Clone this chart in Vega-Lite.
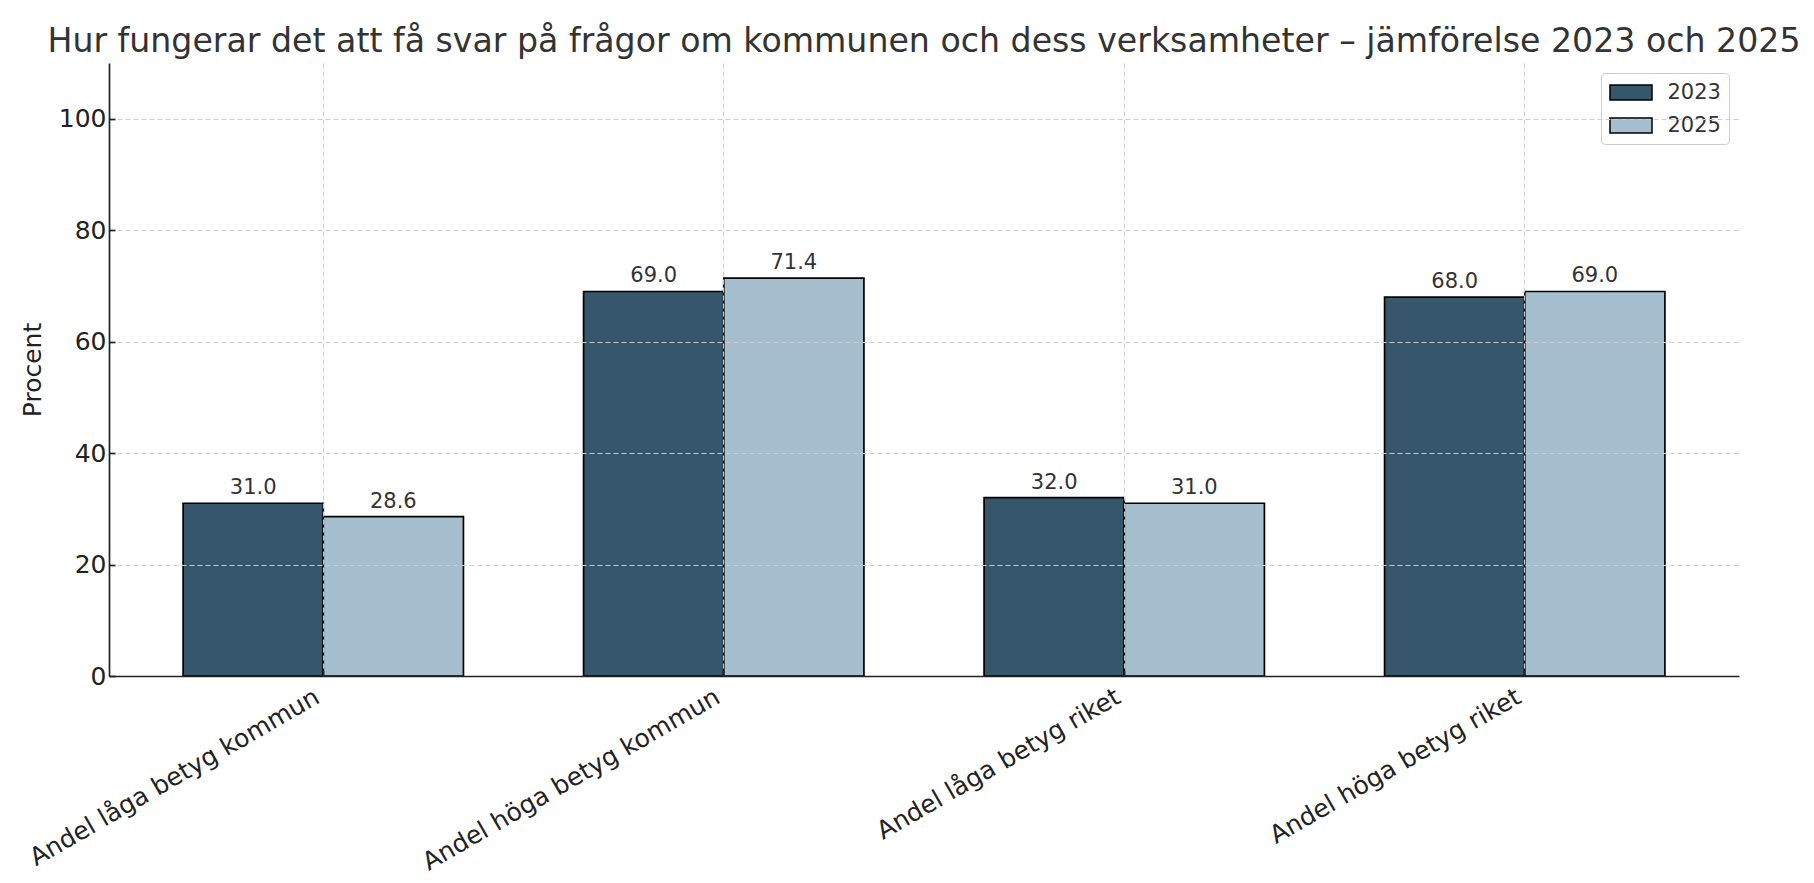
{
  "$schema": "https://vega.github.io/schema/vega-lite/v6.json",
  "width": 1630,
  "height": 613,
  "autosize": {"type": "none"},
  "padding": {"left": 109, "top": 63, "right": 75, "bottom": 207},
  "background": "white",
  "title": {
    "text": "Hur fungerar det att få svar på frågor om kommunen och dess verksamheter – jämförelse 2023 och 2025",
    "fontSize": 33.2,
    "font": "DejaVu Sans",
    "fontWeight": "normal",
    "color": "#333333",
    "anchor": "middle",
    "frame": "group",
    "offset": 4
  },
  "data": {
    "values": [
      {"kategori": "Andel låga betyg kommun", "year": "2023", "value": 31.0},
      {"kategori": "Andel låga betyg kommun", "year": "2025", "value": 28.6},
      {"kategori": "Andel höga betyg kommun", "year": "2023", "value": 69.0},
      {"kategori": "Andel höga betyg kommun", "year": "2025", "value": 71.4},
      {"kategori": "Andel låga betyg riket", "year": "2023", "value": 32.0},
      {"kategori": "Andel låga betyg riket", "year": "2025", "value": 31.0},
      {"kategori": "Andel höga betyg riket", "year": "2023", "value": 68.0},
      {"kategori": "Andel höga betyg riket", "year": "2025", "value": 69.0}
    ]
  },
  "encoding": {
    "x": {
      "field": "kategori",
      "type": "nominal",
      "sort": null,
      "scale": {"paddingInner": 0.3, "paddingOuter": 0.185},
      "axis": {
        "title": null,
        "bandPosition": 0.5,
        "labelAngle": -30,
        "labelAlign": "right",
        "labelBaseline": "top",
        "labelFontSize": 25,
        "labelColor": "#222222",
        "labelLimit": 0,
        "labelPadding": 14,
        "labelOffset": -12,
        "tickSize": -6,
        "tickColor": "#222222",
        "tickWidth": 1.7,
        "domainColor": "#222222",
        "domainWidth": 1.7,
        "grid": true,
        "gridColor": "#cccccc",
        "gridDash": [5, 3],
        "gridWidth": 1,
        "zindex": 1
      }
    },
    "xOffset": {"field": "year", "type": "nominal", "scale": {"paddingInner": 0, "paddingOuter": 0}},
    "y": {
      "field": "value",
      "type": "quantitative",
      "scale": {"domain": [0, 110], "nice": false},
      "axis": {
        "title": "Procent",
        "titleFontSize": 25,
        "titleFontWeight": "normal",
        "titleColor": "#222222",
        "titlePadding": 13,
        "values": [0, 20, 40, 60, 80, 100],
        "labelFontSize": 25,
        "labelColor": "#222222",
        "labelPadding": 9,
        "tickSize": -6,
        "tickColor": "#222222",
        "tickWidth": 1.7,
        "domainColor": "#222222",
        "domainWidth": 1.7,
        "grid": true,
        "gridColor": "#cccccc",
        "gridDash": [5, 3],
        "gridWidth": 1,
        "zindex": 1
      }
    }
  },
  "layer": [
    {
      "mark": {"type": "bar", "stroke": "black", "strokeWidth": 1.7},
      "encoding": {
        "color": {
          "field": "year",
          "type": "nominal",
          "scale": {"domain": ["2023", "2025"], "range": ["#36566b", "#a5bfcf"]},
          "legend": {
            "orient": "top-right",
            "offset": 10,
            "title": null,
            "symbolType": "M-2,-0.714L2,-0.714L2,0.714L-2,0.714Z",
            "symbolSize": 441,
            "symbolOffset": 10.5,
            "symbolStrokeColor": "black",
            "symbolStrokeWidth": 1.5,
            "symbolOpacity": 1,
            "labelFontSize": 21,
            "labelColor": "#333333",
            "labelOffset": 25,
            "rowPadding": 11,
            "padding": 8,
            "strokeColor": "#cccccc",
            "fillColor": "white",
            "cornerRadius": 4
          }
        }
      }
    },
    {
      "mark": {"type": "text", "baseline": "alphabetic", "dy": -9, "fontSize": 21, "color": "#333333"},
      "encoding": {
        "text": {"field": "value", "type": "quantitative", "format": ".1f"}
      }
    }
  ],
  "config": {
    "font": "DejaVu Sans",
    "view": {"stroke": null}
  }
}
